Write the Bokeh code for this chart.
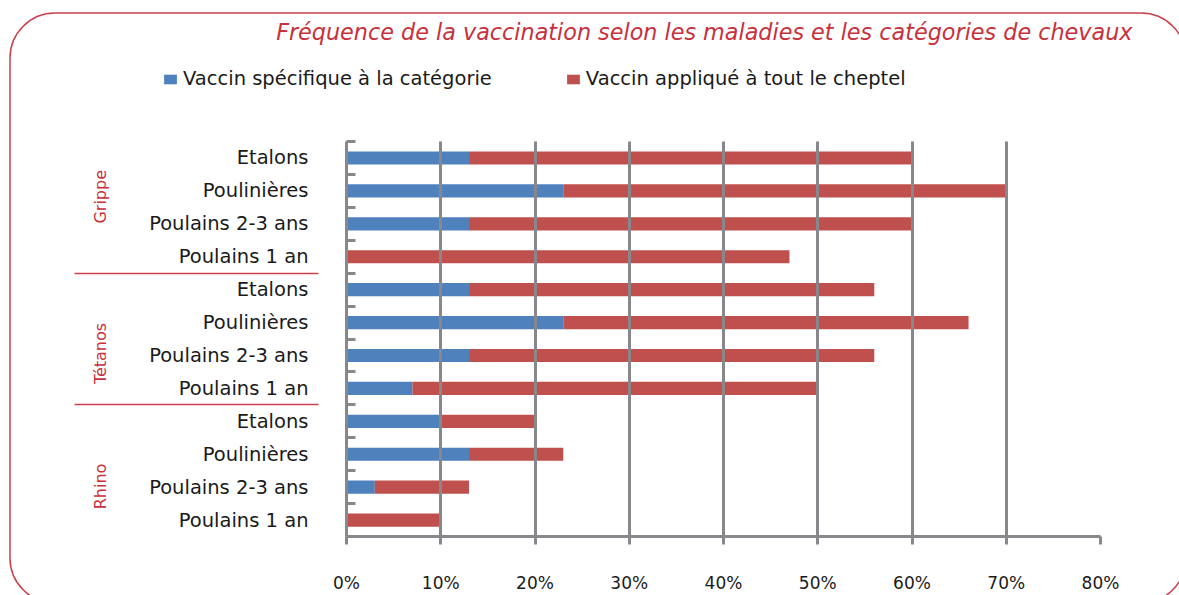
from bokeh.plotting import figure
from bokeh.layouts import column
from bokeh.models import (Range1d, FixedTicker, LinearAxis, Label, Legend, LegendItem,
                          ColumnDataSource)
from bokeh.embed import file_html
from bokeh.resources import INLINE

# ---------------- data ----------------
title_text = "Fréquence de la vaccination selon les maladies et les catégories de chevaux"
series_names = ["Vaccin spécifique à la catégorie", "Vaccin appliqué à tout le cheptel"]
diseases = ["Grippe", "Tétanos", "Rhino"]
categories = ["Etalons", "Poulinières", "Poulains 2-3 ans", "Poulains 1 an"]
# share of the category-specific vaccine (%), rows in order Grippe, Tétanos, Rhino
specific = [13, 23, 13, 0,
            13, 23, 13, 7,
            10, 13, 3, 0]
# total vaccination frequency (%)
total = [60, 70, 60, 47,
         56, 66, 56, 50,
         20, 23, 13, 10]
x_ticks = [0, 10, 20, 30, 40, 50, 60, 70, 80]
x_tick_labels = ["0%", "10%", "20%", "30%", "40%", "50%", "60%", "70%", "80%"]

# ---------------- derived ----------------
herd = [t - s for t, s in zip(total, specific)]
row_labels = [c for d in diseases for c in categories]
n_rows = len(row_labels)
row_pos = [i + 0.5 for i in range(n_rows)]
row_bounds = [float(i) for i in range(n_rows + 1)]
group_bounds = [float(len(categories) * k) for k in range(1, len(diseases))]
group_label_pos = [1.68, 6.44, 10.48]   # layout: where the group names sit

BLUE = "#4f81bd"
RED = "#c0504d"
GREY = "#87878c"
DARK_RED = "#c8303c"
TXT = "#1a1a1a"
COLORS = [BLUE, RED]

src = ColumnDataSource(dict(y=row_pos, spec=specific, herd=herd))

W, H = 1179, 595
HEAD = 131                      # height of the header (title + legend)
FL, FR, FT, FB = 346, 1100, 141, 537

# rounded red frame of the page, drawn as the layout's CSS background
frame_svg = ("data:image/svg+xml;utf8,"
             "<svg xmlns='http://www.w3.org/2000/svg' width='1179' height='595'>"
             "<rect x='10' y='13' width='1176' height='590' rx='45' ry='45' "
             "fill='none' stroke='%23c8404c' stroke-width='1.5'/></svg>")

# ---------------- header: title + legend ----------------
head = figure(width=W, height=HEAD, output_backend="svg", toolbar_location=None,
              title=None, x_axis_location=None, y_axis_location=None,
              x_range=Range1d(0, 1), y_range=Range1d(0, 1),
              min_border=0)
head.outline_line_color = None
head.background_fill_color = None
head.border_fill_color = None
head.grid.visible = False

# legend keys: zero-length bars kept outside the header's visible range
key_src = ColumnDataSource(dict(y=[-5.0], right=[0.0]))
items = []
for name, col in zip(series_names, COLORS):
    r = head.hbar(y="y", right="right", height=0.4, color=col, line_color=None,
                  source=key_src)
    items.append(LegendItem(label=name, renderers=[r], index=0))

leg = Legend(items=items, orientation="horizontal", location=(162, 41),
             padding=0, margin=0, spacing=73, glyph_width=16, glyph_height=12,
             label_standoff=5, border_line_color=None, background_fill_alpha=0,
             label_text_font="DejaVu Sans", label_text_font_size="19.5px",
             label_text_color=TXT)
head.add_layout(leg)

head.add_layout(Label(x=1132, y=31, x_units="canvas", y_units="canvas",
                      text=title_text, text_align="right", text_baseline="alphabetic",
                      text_font="DejaVu Sans", text_font_style="italic",
                      text_font_size="22.3px", text_color=DARK_RED))

# ---------------- main chart ----------------
p = figure(width=W, height=H - HEAD, output_backend="svg", toolbar_location=None,
           title=None,
           x_range=Range1d(0, 80), y_range=Range1d(n_rows, 0),
           min_border_left=FL, min_border_right=W - FR,
           min_border_top=FT - HEAD, min_border_bottom=H - FB)
p.outline_line_color = None
p.background_fill_color = "white"
p.border_fill_color = None

for fig in (head, p):
    if hasattr(fig, "frame_align"):
        fig.frame_align = False

p.hbar_stack(["spec", "herd"], y="y", height=0.4, color=COLORS,
             line_color=None, source=src)

# x axis
xa = p.xaxis[0]
xa.ticker = FixedTicker(ticks=x_ticks)
xa.major_label_overrides = {t: l for t, l in zip(x_ticks, x_tick_labels)}
xa.axis_line_color = GREY
xa.axis_line_width = 3
xa.major_tick_line_color = GREY
xa.major_tick_line_width = 3
xa.major_tick_in = 0
xa.major_tick_out = 8
xa.minor_tick_line_color = None
xa.major_label_standoff = 28
xa.major_label_text_font = "DejaVu Sans"
xa.major_label_text_font_size = "17px"
xa.major_label_text_color = TXT

p.xgrid.ticker = FixedTicker(ticks=x_ticks)
p.xgrid.grid_line_color = GREY
p.xgrid.grid_line_width = 3
p.xgrid.level = "guide"
p.ygrid.visible = False

# inner y axis: category names, boundary ticks inside
ya = p.yaxis[0]
ya.ticker = FixedTicker(ticks=row_pos, minor_ticks=row_bounds)
ya.major_label_overrides = {y: l for y, l in zip(row_pos, row_labels)}
ya.major_tick_line_color = None
ya.major_tick_in = 0
ya.major_tick_out = 0
ya.minor_tick_line_color = GREY
ya.minor_tick_line_width = 3
ya.minor_tick_in = 9
ya.minor_tick_out = 0
ya.axis_line_color = GREY
ya.axis_line_width = 3
ya.major_label_standoff = 38
ya.major_label_text_font = "DejaVu Sans"
ya.major_label_text_font_size = "19.5px"
ya.major_label_text_color = TXT

# outer y axis: disease groups with separators
ga = LinearAxis(ticker=FixedTicker(ticks=group_label_pos, minor_ticks=group_bounds))
ga.major_label_overrides = {y: l for y, l in zip(group_label_pos, diseases)}
ga.major_label_orientation = "vertical"
ga.major_tick_line_color = None
ga.major_tick_in = 0
ga.major_tick_out = 0
ga.minor_tick_line_color = "#cf4050"
ga.minor_tick_line_width = 1.5
ga.minor_tick_in = 172
ga.minor_tick_out = 72
ga.axis_line_color = None
ga.major_label_standoff = -36
ga.major_label_text_font = "DejaVu Sans"
ga.major_label_text_font_size = "16px"
ga.major_label_text_color = DARK_RED
p.add_layout(ga, "left")

page = column(head, p, spacing=0,
              styles={"background-color": "white",
                      "background-image": f'url("{frame_svg}")',
                      "background-repeat": "no-repeat"})

open("out.html", "w").write(file_html(page, INLINE))
